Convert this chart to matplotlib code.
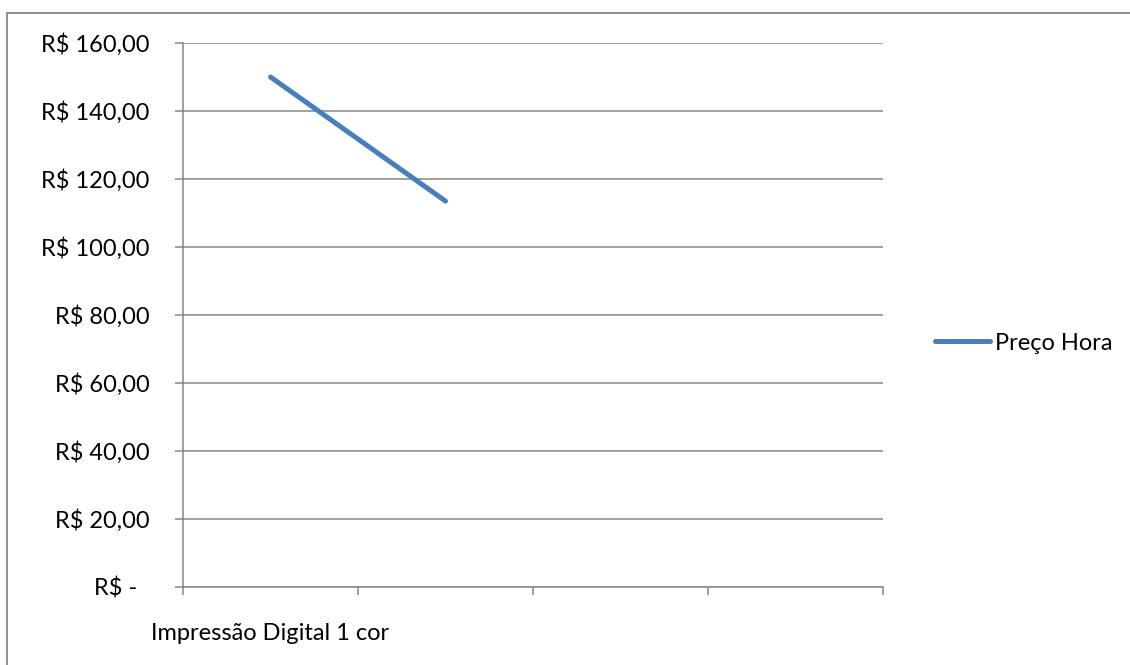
import matplotlib.pyplot as plt
from matplotlib.patches import Rectangle
import numpy as np

plt.rcParams['font.family'] = ['Lato', 'DejaVu Sans']

# categorias do eixo x (só a primeira tem rótulo visível)
categorias = ["Impressão Digital 1 cor", "", "", ""]
preco_hora = [150.0, 113.5, np.nan, np.nan]
yticks = [0, 20, 40, 60, 80, 100, 120, 140, 160]

def formata_real(v):
    # formato contábil: zero vira traço
    if v == 0:
        return "R$ -  "
    return "R$ " + f"{v:,.2f}".replace(",", "X").replace(".", ",").replace("X", ".")

W, H = 1130, 665
fig = plt.figure(figsize=(W / 100, H / 100), dpi=100)
ax = fig.add_axes([183 / W, 1 - 587 / H, 700 / W, 544 / H])

cinza = "#868686"
fs = 17
x = np.arange(len(categorias)) + 0.5
ax.plot(x, preco_hora, color="#4A7EBB", linewidth=3.6, solid_capstyle="round", label="Preço Hora")

ax.set_xlim(0, len(categorias))
ax.set_ylim(0, 160)
ax.set_yticks(yticks)
ax.set_yticklabels([formata_real(v) for v in yticks])
ax.yaxis.grid(True, color=cinza, linewidth=1.1)
ax.set_axisbelow(True)

# marcas nas divisões, rótulos no centro de cada categoria
ax.set_xticks(np.arange(len(categorias) + 1))
ax.set_xticklabels([])
ax.set_xticks(x, minor=True)
ax.set_xticklabels(categorias, minor=True)
ax.tick_params(axis="x", which="minor", length=0, labelsize=fs, pad=26)

for lado in ["top", "right"]:
    ax.spines[lado].set_visible(False)
for lado in ["left", "bottom"]:
    ax.spines[lado].set_color(cinza)
    ax.spines[lado].set_linewidth(1.1)

ax.tick_params(axis="y", length=6, color=cinza, width=1.1, labelsize=fs, pad=18)
ax.tick_params(axis="x", which="major", length=6, color=cinza, width=1.1, direction="out")

leg = ax.legend(loc="center left", bbox_to_anchor=(935 / W, 1 - 343 / H),
                bbox_transform=fig.transFigure, frameon=False, fontsize=fs,
                handlelength=2.33, handletextpad=0.2, borderaxespad=0, borderpad=0)

# moldura do gráfico
fig.patches.append(Rectangle((7 / W, -0.1), 1.2, (1 - 13 / H) + 0.1, transform=fig.transFigure,
                             fill=False, edgecolor=cinza, linewidth=1.3))

fig.savefig("out.png", dpi=100)
